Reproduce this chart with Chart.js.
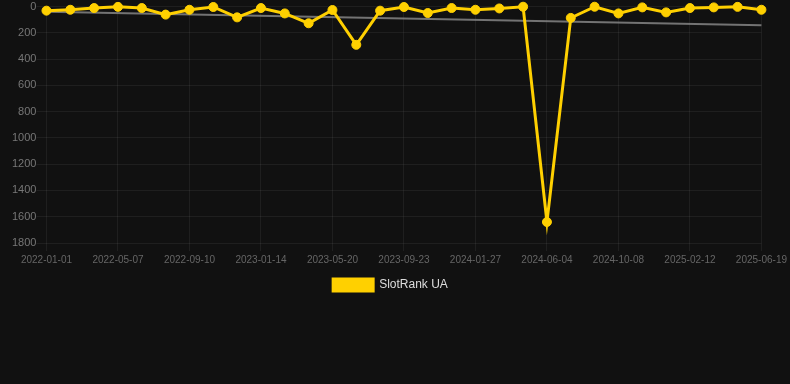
<!DOCTYPE html>
<html>
<head>
<meta charset="utf-8">
<script src="https://cdn.jsdelivr.net/npm/chart.js@4.4.1/dist/chart.umd.min.js"></script>
<style>
  html, body { margin: 0; padding: 0; background: #111111; }
  #wrap { position: relative; width: 790px; height: 301px; }
</style>
</head>
<body>
<div id="wrap"><canvas id="rankChart"></canvas></div>
<script>
const dates = [
  '2022-01-01', '2022-02-12', '2022-03-26', '2022-05-07', '2022-06-18', '2022-07-30',
  '2022-09-10', '2022-10-22', '2022-12-03', '2023-01-14', '2023-02-25', '2023-04-08',
  '2023-05-20', '2023-07-01', '2023-08-12', '2023-09-23', '2023-11-04', '2023-12-16',
  '2024-01-27', '2024-03-09', '2024-04-20', '2024-06-04', '2024-07-16', '2024-08-27',
  '2024-10-08', '2024-11-19', '2024-12-31', '2025-02-12', '2025-03-26', '2025-05-07',
  '2025-06-19'
];
const rankUA = [
  31, 24, 11, 2, 11, 61, 24, 3, 82, 11, 52, 127, 26, 291, 31, 3,
  49, 11, 24, 14, 1, 1640, 86, 1, 52, 6, 44, 11, 6, 2, 24
];
// trend line end points
const trendStart = 39;
const trendEnd = 142;
const yTicks = [0, 200, 400, 600, 800, 1000, 1200, 1400, 1600, 1800];

const yellow = '#ffd000';
const gridColor = 'rgba(255,255,255,0.06)';

Chart.defaults.font.family = 'Arial, "Liberation Sans", sans-serif';

const trendData = dates.map(() => null);
trendData[0] = trendStart;
trendData[dates.length - 1] = trendEnd;

const ctx = document.getElementById('rankChart').getContext('2d');
const rankChart = new Chart(ctx, {
  type: 'line',
  data: {
    labels: dates,
    datasets: [{
      label: 'SlotRank UA',
      data: rankUA,
      borderColor: yellow,
      backgroundColor: yellow,
      borderWidth: 3,
      pointRadius: 4.5,
      pointBorderWidth: 1,
      pointBackgroundColor: yellow,
      pointBorderColor: yellow,
      tension: 0,
      clip: false
    }, {
      label: 'trend',
      data: trendData,
      spanGaps: true,
      borderColor: 'rgba(140,140,140,0.8)',
      borderWidth: 2,
      pointRadius: 0,
      fill: false
    }]
  },
  options: {
    responsive: true,
    maintainAspectRatio: false,
    animation: false,
    layout: { autoPadding: false, padding: { left: 12, right: 21 } },
    plugins: {
      legend: {
        position: 'bottom',
        labels: {
          color: '#dddddd',
          font: { size: 12 },
          boxWidth: 40,
          boxHeight: 12,
          filter: function (item) { return item.text !== 'trend'; }
        }
      },
      tooltip: { enabled: false }
    },
    scales: {
      x: {
        grid: {
          color: function (c) { return c.index % 3 === 0 ? gridColor : 'transparent'; },
          tickLength: 8
        },
        border: { display: false },
        ticks: {
          autoSkip: false,
          maxRotation: 0,
          color: '#666666',
          font: { size: 10 },
          padding: 3,
          callback: function (value, index) { return index % 3 === 0 ? dates[index] : ''; }
        }
      },
      y: {
        reverse: true,
        min: yTicks[0],
        max: yTicks[yTicks.length - 1],
        grid: { color: gridColor, tickLength: 10 },
        border: { display: false },
        afterBuildTicks: function (axis) { axis.ticks = yTicks.map(v => ({ value: v })); },
        ticks: {
          color: '#777777',
          font: { size: 11 },
          padding: 0,
          callback: function (value) { return String(value); }
        }
      }
    }
  }
});
</script>
</body>
</html>
